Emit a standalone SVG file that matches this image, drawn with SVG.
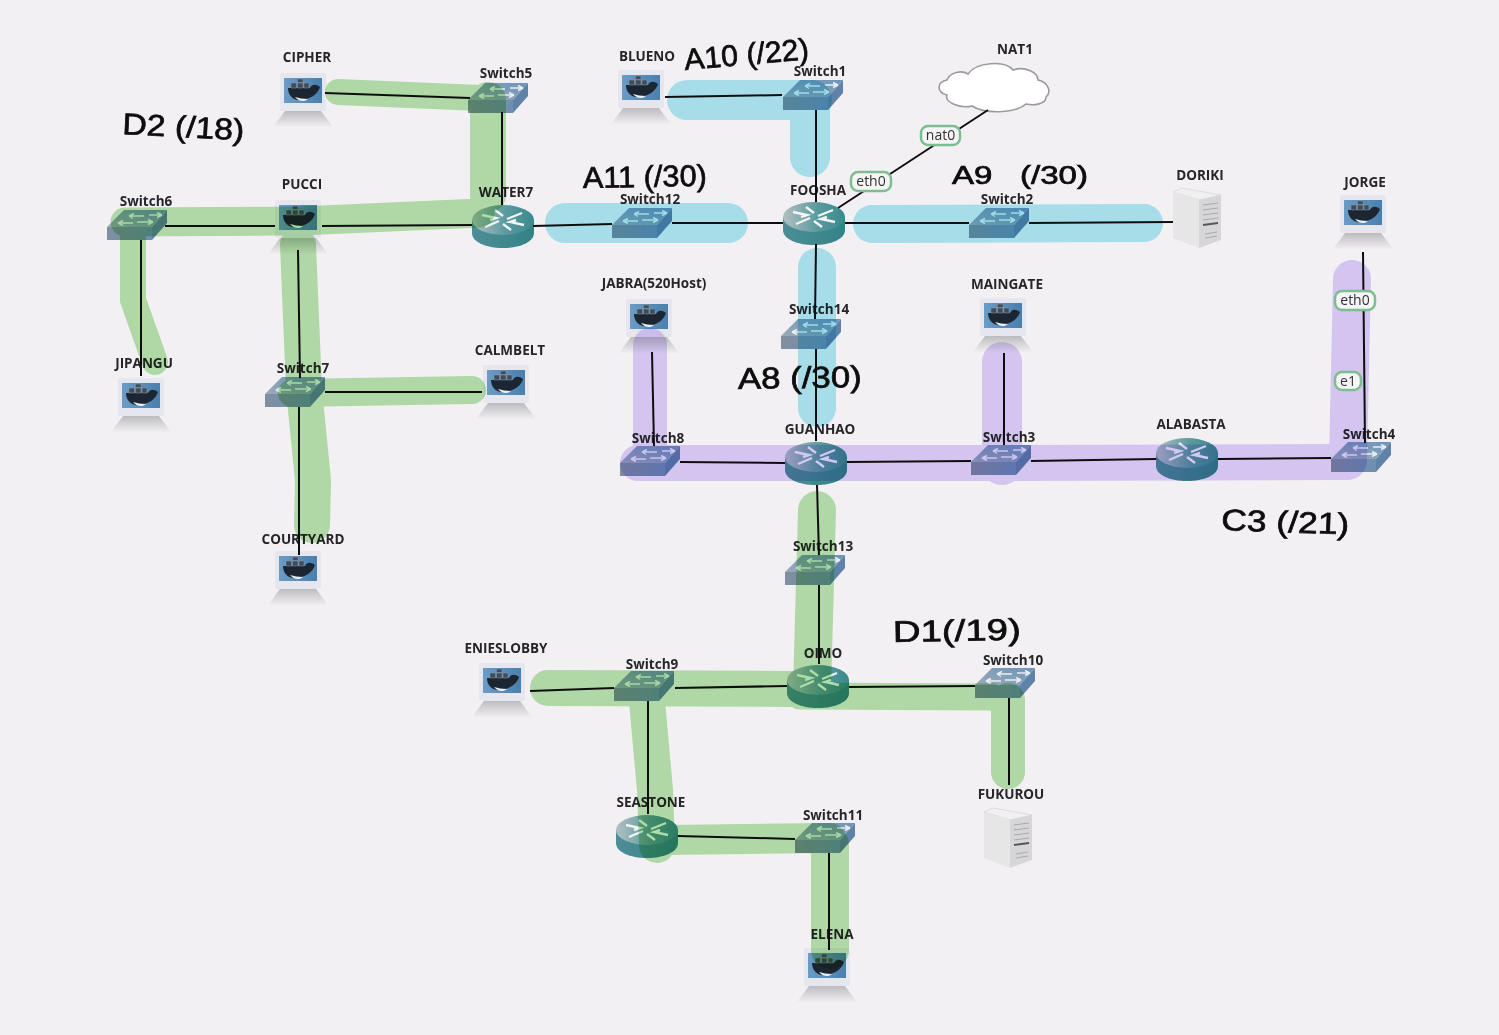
<svg xmlns="http://www.w3.org/2000/svg" width="1499" height="1035" viewBox="0 0 1499 1035">
<style>
text{font-family:"Open Sans","Liberation Sans",sans-serif}
.lb{font-size:13.5px;font-weight:700;fill:#26262b;text-anchor:middle}
.ln{fill:none;stroke:#111;stroke-width:2}
.hl{fill:none;stroke-linecap:round;stroke-linejoin:round}
.hg{mix-blend-mode:multiply}
.g{stroke:#b9e5ae}.b{stroke:#aeebf5}.p{stroke:#dfd2fc}
.pill{fill:#f6f5f6;stroke:#7dbd92;stroke-width:2.5}
.pt{font-size:14px;fill:#333;text-anchor:middle}
.hw{font-family:"Liberation Sans",sans-serif;font-size:30px;fill:#0c0c0c;stroke:#0c0c0c;stroke-width:.7}
</style>
<defs>
<filter id="soft" x="0" y="0" width="100%" height="100%"><feGaussianBlur stdDeviation="0.45"/></filter>
<linearGradient id="swf" x1="0" x2="1"><stop offset="0" stop-color="#808f9f"/><stop offset="1" stop-color="#6c8fb2"/></linearGradient>
<linearGradient id="swt" x1="0" x2="1" y1="1" y2="0"><stop offset="0" stop-color="#9aabb8"/><stop offset="1" stop-color="#6d93ba"/></linearGradient>
<linearGradient id="rt" x1="0" x2="1"><stop offset="0" stop-color="#b3c0c4"/><stop offset=".55" stop-color="#5a9a9e"/><stop offset="1" stop-color="#3b8a8e"/></linearGradient>
<linearGradient id="rs" x1="0" x2="1"><stop offset="0" stop-color="#4d8e96"/><stop offset="1" stop-color="#338387"/></linearGradient>
<linearGradient id="base" x1="0" y1="0" x2="0" y2="1"><stop offset="0" stop-color="#bcbcbe"/><stop offset="1" stop-color="#f0eef0"/></linearGradient>
<linearGradient id="scr" x1="0" x2="1"><stop offset="0" stop-color="#6a9cc6"/><stop offset="1" stop-color="#4a7fae"/></linearGradient>
<g id="switch">
<path d="M0,17 L17,0 H60 L45,17Z" fill="url(#swt)"/>
<path d="M0,17 H45 V30 H0Z" fill="url(#swf)"/>
<path d="M45,17 L60,0 V13 L45,30Z" fill="#5f83a8"/>
<path d="M22,6 H37 M22,6 l5,-2.500 M22,6 l4,2.500 M42,5 H55 M55,5 l-5,-2.500 M55,5 l-5,2.500 M11,13 H26 M11,13 l5,-2.500 M11,13 l5,2.500 M30,12 H46 M46,12 l-5,-2.500 M46,12 l-5,2.500" fill="none" stroke="#e8eef0" stroke-width="1.4"/>
</g>
<g id="router">
<path d="M0,16 V29 C0,38 14,44 31,44 S62,38 62,29 V16Z" fill="url(#rs)"/>
<ellipse cx="31" cy="16" rx="31" ry="15" fill="url(#rt)"/>
<path d="M10,11 L24,14 L18,16 M52,21 L38,18 L44,16 M27,17 L13,23 M35,15 L50,9 M23,6 L31,12 M39,26 L31,20" fill="none" stroke="#f0f5f5" stroke-width="2.4"/>
</g>
<g id="host">
<path d="M-18,38 H18 L30,54 H-30Z" fill="url(#base)"/>
<rect x="-23" y="0" width="46" height="38" rx="2" fill="#e6e6ee"/>
<rect x="-19" y="5" width="38" height="25" fill="url(#scr)"/>
<path d="M-15,15 H7 C9,11 13,11 17,14 C15,21 7,27 -4,27 C-11,27 -15,21 -15,15Z" fill="#1e2833"/>
<path d="M-8,24 C-4,29 2,29 5,26 C0,26 -4,25 -8,24Z" fill="#e8eef2"/>
<path d="M-12,10 h5.500 v5 h-5.500z M-5.500,10 h5.500 v5 h-5.500z M1,10 h5 v5 h-5z M-5.500,6 h5.500 v3.500 h-5.500z" fill="#3f4c5b" stroke="#8e98a3" stroke-width=".5"/>
</g>
<g id="server">
<path d="M0,4 L9,0 L48,7 L26,12Z" fill="#f0f0f0" stroke="#cfcfcf" stroke-width=".6"/>
<path d="M0,4 L26,12 V60 L0,50Z" fill="#e6e6e7"/>
<path d="M26,12 L48,7 V52 L26,60Z" fill="#d6d6d8"/>
<path d="M30,17 L45,15 M30,22 L45,20 M30,27 L45,25 M30,32 L45,30 M32,46 L44,44 M32,50 L44,48" stroke="#aaaaac" stroke-width="1.1" fill="none"/>
<path d="M30,37 L45,35" stroke="#55565a" stroke-width="1.8" fill="none"/>
</g>
</defs>
<g id="page" filter="url(#soft)">
<rect id="bg" width="1499" height="1035" fill="#f3f0f3"/>

<g id="nodes">
<g id="CIPHER"><use href="#host" x="303" y="73"/><text class="lb" x="307" y="62">CIPHER</text></g>
<g id="BLUENO"><use href="#host" x="641" y="70"/><text class="lb" x="647" y="61">BLUENO</text></g>
<g id="PUCCI"><use href="#host" x="298" y="200"/><text class="lb" x="302" y="189">PUCCI</text></g>
<g id="JIPANGU"><use href="#host" x="141" y="378"/><text class="lb" x="144" y="368">JIPANGU</text></g>
<g id="CALMBELT"><use href="#host" x="506" y="365"/><text class="lb" x="510" y="355">CALMBELT</text></g>
<g id="COURTYARD"><use href="#host" x="298" y="551"/><text class="lb" x="303" y="544">COURTYARD</text></g>
<g id="JABRA"><use href="#host" x="649" y="299"/><text class="lb" x="654" y="288">JABRA(520Host)</text></g>
<g id="MAINGATE"><use href="#host" x="1003" y="298"/><text class="lb" x="1007" y="289">MAINGATE</text></g>
<g id="JORGE"><use href="#host" x="1363" y="195"/><text class="lb" x="1365" y="187">JORGE</text></g>
<g id="ENIESLOBBY"><use href="#host" x="502" y="663"/><text class="lb" x="506" y="653">ENIESLOBBY</text></g>
<g id="ELENA"><use href="#host" x="827" y="948"/><text class="lb" x="832" y="939">ELENA</text></g>
<g id="DORIKI"><use href="#server" x="1173" y="188"/><text class="lb" x="1200" y="180">DORIKI</text></g>
<g id="FUKUROU"><use href="#server" x="984" y="808"/><text class="lb" x="1011" y="799">FUKUROU</text></g>
<g id="NAT1"><path d="M947,80 C950,72 962,70 968,74 C976,62 1005,60 1013,70 C1024,66 1038,72 1038,80 C1048,82 1052,92 1046,97 C1046,104 1034,106 1026,104 C1014,114 985,114 972,106 C960,109 944,102 947,95 C936,92 937,82 947,80Z" fill="#fff" stroke="#9a9a9c" stroke-width="1.6"/><text class="lb" x="1015" y="54">NAT1</text></g>
<g id="Switch5"><use href="#switch" x="468" y="83"/><text class="lb" x="506" y="78">Switch5</text></g>
<g id="Switch1"><use href="#switch" x="783" y="80"/><text class="lb" x="820" y="76">Switch1</text></g>
<g id="Switch12"><use href="#switch" x="612" y="208"/><text class="lb" x="650" y="204">Switch12</text></g>
<g id="Switch6"><use href="#switch" x="107" y="210"/><text class="lb" x="146" y="206">Switch6</text></g>
<g id="Switch7"><use href="#switch" x="265" y="377"/><text class="lb" x="303" y="373">Switch7</text></g>
<g id="Switch2"><use href="#switch" x="969" y="208"/><text class="lb" x="1007" y="204">Switch2</text></g>
<g id="Switch14"><use href="#switch" x="781" y="319"/><text class="lb" x="819" y="314">Switch14</text></g>
<g id="Switch8"><use href="#switch" x="620" y="446"/><text class="lb" x="658" y="443">Switch8</text></g>
<g id="Switch3"><use href="#switch" x="971" y="445"/><text class="lb" x="1009" y="442">Switch3</text></g>
<g id="Switch4"><use href="#switch" x="1331" y="442"/><text class="lb" x="1369" y="439">Switch4</text></g>
<g id="Switch13"><use href="#switch" x="785" y="555"/><text class="lb" x="823" y="551">Switch13</text></g>
<g id="Switch9"><use href="#switch" x="614" y="671"/><text class="lb" x="652" y="669">Switch9</text></g>
<g id="Switch10"><use href="#switch" x="975" y="668"/><text class="lb" x="1013" y="665">Switch10</text></g>
<g id="Switch11"><use href="#switch" x="795" y="823"/><text class="lb" x="833" y="820">Switch11</text></g>
<g id="WATER7"><use href="#router" x="472" y="204"/><text class="lb" x="506" y="197">WATER7</text></g>
<g id="FOOSHA"><use href="#router" x="783" y="201"/><text class="lb" x="818" y="195">FOOSHA</text></g>
<g id="GUANHAO"><use href="#router" x="785" y="441"/><text class="lb" x="820" y="434">GUANHAO</text></g>
<g id="ALABASTA"><use href="#router" x="1156" y="437"/><text class="lb" x="1191" y="429">ALABASTA</text></g>
<g id="OIMO"><use href="#router" x="787" y="664"/><text class="lb" x="823" y="658">OIMO</text></g>
<g id="SEASTONE"><use href="#router" x="616" y="814"/><text class="lb" x="651" y="807">SEASTONE</text></g>
</g>

<g id="connectors">
<path class="ln" d="M325,93 L470,98"/><path class="ln" d="M502,112 V205"/>
<path class="ln" d="M165,226 H275"/><path class="ln" d="M322,226 L472,225"/>
<path class="ln" d="M141,240 V376"/><path class="ln" d="M298,250 L300,378"/><path class="ln" d="M299,407 V555"/>
<path class="ln" d="M325,392 H482"/><path class="ln" d="M533,226 L612,224"/><path class="ln" d="M672,223 H783"/>
<path class="ln" d="M665,97 L782,95"/><path class="ln" d="M816,110 V202"/>
<path class="ln" d="M838,208 L988,110"/><path class="ln" d="M845,223 H969"/><path class="ln" d="M1029,223 L1173,222"/>
<path class="ln" d="M816,244 L815,319"/><path class="ln" d="M816,349 V441"/>
<path class="ln" d="M652,352 L654,446"/><path class="ln" d="M680,462 L785,463"/><path class="ln" d="M847,462 L971,461"/>
<path class="ln" d="M1004,353 V445"/><path class="ln" d="M1031,461 L1156,459"/><path class="ln" d="M1218,459 L1331,458"/>
<path class="ln" d="M1363,252 L1365,443"/>
<path class="ln" d="M817,485 L819,555"/><path class="ln" d="M819,585 V664"/>
<path class="ln" d="M530,691 L614,688"/><path class="ln" d="M675,688 L787,686"/><path class="ln" d="M849,687 L975,686"/>
<path class="ln" d="M1009,698 V785"/><path class="ln" d="M648,701 V814"/><path class="ln" d="M678,836 L795,839"/><path class="ln" d="M829,853 V950"/>
</g>

<g id="hl">
<g class="hg">
<path class="hl g" stroke-width="26" d="M338,92 L480,98"/>
<path class="hl g" stroke-width="36" d="M488,100 V195"/>
<path class="hl g" stroke-width="29" d="M125,222 L300,221 L480,213"/>
<path class="hl g" stroke-width="26" d="M133,225 V300 L155,362"/>
<path class="hl g" stroke-width="36" d="M298,245 L304,390 L313,480 L312,525"/>
<path class="hl g" stroke-width="28" d="M292,393 L472,390"/>
<path class="hl g" stroke-width="38" d="M817,510 L812,690"/>
<path class="hl g" stroke-width="36" d="M548,688 L800,689"/>
<path class="hl g" stroke-width="27" d="M800,696 L992,697"/>
<path class="hl g" stroke-width="34" d="M1008,700 V772"/>
<path class="hl g" stroke-width="36" d="M646,690 L655,790 L657,845"/>
<path class="hl g" stroke-width="30" d="M665,840 L830,838"/>
<path class="hl g" stroke-width="38" d="M830,845 V950"/>
</g>
<g class="hg">
<path class="hl b" stroke-width="40" d="M687,100 L812,100"/>
<path class="hl b" stroke-width="40" d="M810,100 V157"/>
<path class="hl b" stroke-width="40" d="M565,223 H728"/>
<path class="hl b" stroke-width="38" d="M872,224 L1144,223"/>
<path class="hl b" stroke-width="38" d="M817,267 V408"/>
</g>
<g class="hg">
<path class="hl p" stroke-width="34" d="M650,345 V450"/>
<path class="hl p" stroke-width="40" d="M1002,362 V465"/>
<path class="hl p" stroke-width="36" d="M638,463 L1000,463 L1348,462"/>
<path class="hl p" stroke-width="38" d="M1352,279 L1348,460"/>
</g>
</g>

<g id="labels">
<rect class="pill" x="851" y="172" width="40" height="19" rx="7"/><text class="pt" x="871" y="186">eth0</text>
<rect class="pill" x="921" y="126" width="39" height="19" rx="7"/><text class="pt" x="940.500" y="140">nat0</text>
<rect class="pill" x="1335" y="291" width="40" height="19" rx="7"/><text class="pt" x="1355" y="305">eth0</text>
<rect class="pill" x="1335" y="372" width="26" height="18" rx="7"/><text class="pt" x="1348" y="386">e1</text>
</g>

<g id="notes">
<text class="hw" transform="translate(122,134) rotate(3)" textLength="122" lengthAdjust="spacingAndGlyphs">D2 (/18)</text>
<text class="hw" transform="translate(685,70) rotate(-5)" textLength="125" lengthAdjust="spacingAndGlyphs">A10 (/22)</text>
<text class="hw" transform="translate(583,188) rotate(-1)" textLength="124" lengthAdjust="spacingAndGlyphs">A11 (/30)</text>
<text class="hw" style="font-size:25px" transform="translate(952,184)" textLength="136" lengthAdjust="spacingAndGlyphs" xml:space="preserve">A9   (/30)</text>
<text class="hw" transform="translate(738,389) rotate(-1)" textLength="124" lengthAdjust="spacingAndGlyphs">A8 (/30)</text>
<text class="hw" transform="translate(1221,530) rotate(2)" textLength="128" lengthAdjust="spacingAndGlyphs">C3 (/21)</text>
<text class="hw" transform="translate(893,642) rotate(-1)" textLength="128" lengthAdjust="spacingAndGlyphs">D1(/19)</text>
</g>
</g>
</svg>
